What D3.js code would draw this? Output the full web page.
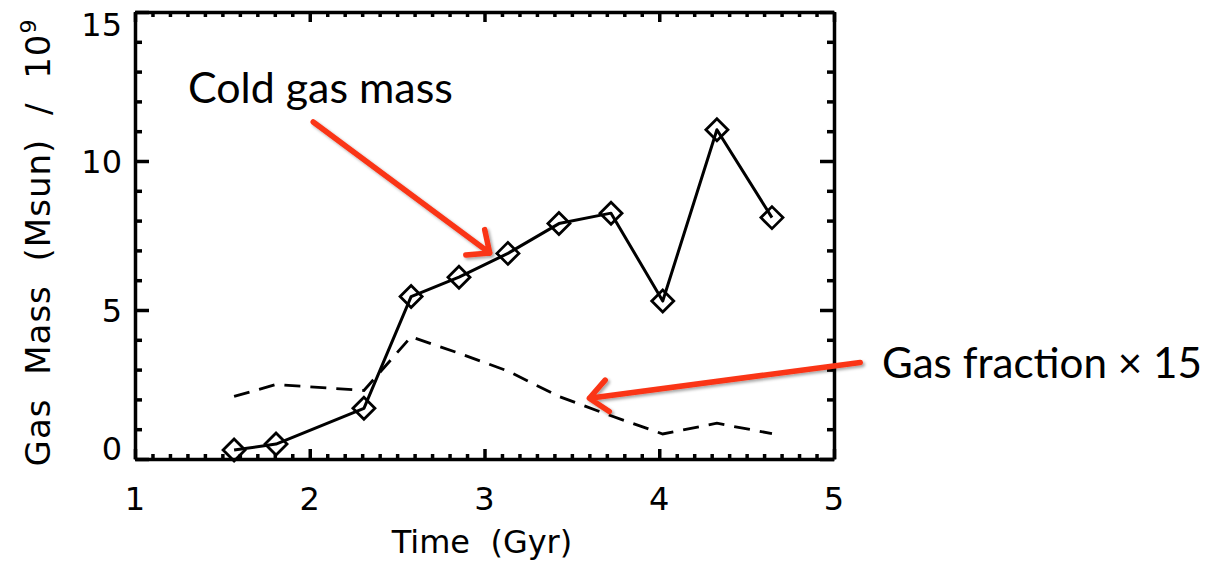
<!DOCTYPE html>
<html>
<head>
<meta charset="utf-8">
<script src="https://cdn.jsdelivr.net/npm/d3@7"></script>
<style>
  body { margin: 0; background: #fff; }
  text { white-space: pre; }
</style>
</head>
<body>
<svg id="chart" width="1218" height="567"></svg>
<script>
// Data
const time = [1.567, 1.807, 2.31, 2.58, 2.854, 3.134, 3.426, 3.724, 4.02, 4.33, 4.645];
const coldGasMass = [0.3, 0.5, 1.7, 5.45, 6.1, 6.9, 7.9, 8.25, 5.3, 11.05, 8.1];
const gasFraction15 = [2.1, 2.5, 2.3, 4.1, 3.55, 2.95, 2.1, 1.45, 0.84, 1.2, 0.85];

const xMajor = [1, 2, 3, 4, 5];
const yMajor = [0, 5, 10, 15];
const xMinor = d3.range(1, 5.001, 0.1).filter(v => Math.abs(v - Math.round(v)) > 1e-6);
const yMinor = d3.range(0, 15.001, 1).filter(v => v % 5 !== 0);

// annotation arrows, in data units: [tail, tip]
const arrows = [
    [[2.02, 11.31], [3.03, 6.91]],
    [[5.15, 3.24], [3.60, 2.04]]
];

const svg = d3.select("#chart");
const x = d3.scaleLinear().domain([1, 5]).range([135, 834]);
const y = d3.scaleLinear().domain([0, 15]).range([459, 12]);
const axisFont = "DejaVu Sans";

// shadow for red arrows
const defs = svg.append("defs");
defs.append("filter").attr("id", "shadow")
    .attr("x", "-20%").attr("y", "-20%").attr("width", "140%").attr("height", "140%")
    .append("feDropShadow")
    .attr("dx", 2).attr("dy", 2).attr("stdDeviation", 1.5)
    .attr("flood-color", "#000").attr("flood-opacity", 0.35);

// axes box with IDL style ticks
function drawAxis(axisFn, scale, major, minor, transform, majLen, minLen) {
    const g = svg.append("g").attr("transform", transform);
    g.call(axisFn(scale).tickValues(major).tickSize(-majLen).tickSizeOuter(0).tickFormat(""));
    g.append("g").call(axisFn(scale).tickValues(minor).tickSize(-minLen).tickSizeOuter(0).tickFormat(""))
        .select(".domain").remove();
    g.selectAll("line").attr("stroke", "#000").attr("stroke-width", 3.5);
    g.select(".domain").attr("stroke", "#000").attr("stroke-width", 3.5);
}
drawAxis(d3.axisBottom, x, xMajor, xMinor, `translate(0,${y(0)})`, 10, 5);
drawAxis(d3.axisTop, x, xMajor, xMinor, `translate(0,${y(15)})`, 10, 5);
drawAxis(d3.axisLeft, y, yMajor, yMinor, `translate(${x(1)},0)`, 14, 7);
drawAxis(d3.axisRight, y, yMajor, yMinor, `translate(${x(5)},0)`, 14, 7);

// tick labels
svg.append("g").selectAll("text").data(xMajor).join("text")
    .attr("x", d => x(d)).attr("y", 498).attr("dy", "0.36em")
    .attr("text-anchor", "middle")
    .style("font-family", axisFont).style("font-size", "32px")
    .text(d => d);

svg.append("g").selectAll("text").data(yMajor).join("text")
    .attr("x", 122).attr("y", d => Math.min(448, Math.max(24, y(d)))).attr("dy", "0.36em")
    .attr("text-anchor", "end")
    .style("font-family", axisFont).style("font-size", "32px")
    .text(d => d);

// axis titles
svg.append("text")
    .attr("x", 482).attr("y", 553)
    .attr("text-anchor", "middle")
    .style("font-family", axisFont).style("font-size", "32px")
    .text("Time  (Gyr)");

const yTitle = svg.append("text")
    .attr("transform", "translate(50,243) rotate(-90)")
    .attr("text-anchor", "middle")
    .attr("textLength", 447).attr("lengthAdjust", "spacing")
    .style("font-family", axisFont).style("font-size", "34px");
yTitle.append("tspan").text("Gas  Mass  (Msun)  /  10");
yTitle.append("tspan").attr("dy", -14).style("font-size", "22px").text("9");

// gas fraction x 15 (dashed)
const line = d3.line().x(d => x(d[0])).y(d => y(d[1]));
svg.append("path")
    .datum(d3.zip(time, gasFraction15))
    .attr("d", line)
    .attr("fill", "none").attr("stroke", "#000")
    .attr("stroke-width", 2.8).attr("stroke-dasharray", "16,10");

// cold gas mass (solid + diamonds)
svg.append("path")
    .datum(d3.zip(time, coldGasMass))
    .attr("d", line)
    .attr("fill", "none").attr("stroke", "#000")
    .attr("stroke-width", 3).attr("stroke-linejoin", "round");

svg.append("g").selectAll("path").data(d3.zip(time, coldGasMass)).join("path")
    .attr("transform", d => `translate(${x(d[0])},${y(d[1])})`)
    .attr("d", "M0,-11L11,0L0,11L-11,0Z")
    .attr("fill", "none").attr("stroke", "#000").attr("stroke-width", 2.8);

// annotation text, fitted to measured widths
function label(str, left, baseline, width) {
    const t = svg.append("text")
        .attr("x", left).attr("y", baseline)
        .style("font-family", "Lato, 'Open Sans', sans-serif").style("font-size", "40px")
        .text(str);
    const w = t.node().getComputedTextLength();
    t.style("font-size", (40 * width / w) + "px");
}
label("Cold gas mass", 188, 103, 265);
label("Gas fraction \u00d7 15", 882, 378, 320);

// red arrows
const red = "#fa3417";
arrows.forEach(([tail, tip]) => {
    const x0 = x(tail[0]), y0 = y(tail[1]), x1 = x(tip[0]), y1 = y(tip[1]);
    const ang = Math.atan2(y1 - y0, x1 - x0);
    const L = 24, spread = 0.72;
    const w1 = [x1 - L * Math.cos(ang - spread), y1 - L * Math.sin(ang - spread)];
    const w2 = [x1 - L * Math.cos(ang + spread), y1 - L * Math.sin(ang + spread)];
    svg.append("path")
        .attr("d", `M${x0},${y0}L${x1},${y1}M${w1[0]},${w1[1]}L${x1},${y1}L${w2[0]},${w2[1]}`)
        .attr("fill", "none").attr("stroke", red).attr("stroke-width", 5.5)
        .attr("stroke-linecap", "round").attr("stroke-linejoin", "round")
        .attr("filter", "url(#shadow)");
});
</script>
</body>
</html>
